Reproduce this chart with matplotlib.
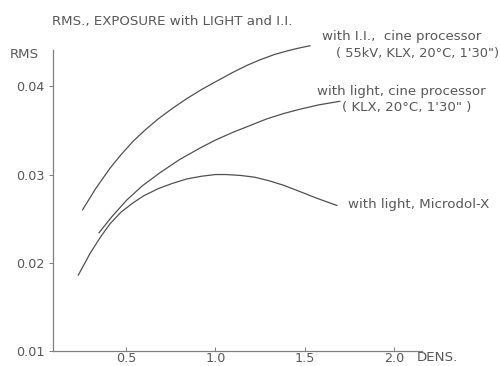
import numpy as np
import matplotlib
matplotlib.use("Agg")
import matplotlib.pyplot as plt

# values
ii_dens = [0.257, 0.33, 0.41, 0.47, 0.541, 0.61, 0.68, 0.76, 0.84, 0.92, 1.00, 1.10,
           1.18, 1.25, 1.33, 1.40, 1.46, 1.53]
ii_rms = [0.0260, 0.0284, 0.0307, 0.0322, 0.0338, 0.0351, 0.0363, 0.0375, 0.0386, 0.0396,
          0.0405, 0.0416, 0.0424, 0.0430, 0.0436, 0.0440, 0.0443, 0.0446]

light_dens = [0.349, 0.42, 0.504, 0.59, 0.69, 0.80, 0.914, 1.00, 1.10, 1.20, 1.287, 1.38,
              1.473, 1.58, 1.697]
light_rms = [0.0234, 0.0252, 0.0271, 0.0287, 0.0302, 0.0317, 0.0330, 0.0339, 0.0348, 0.0356,
             0.0363, 0.0369, 0.0374, 0.0379, 0.0383]

micro_dens = [0.233, 0.30, 0.36, 0.41, 0.47, 0.54, 0.60, 0.68, 0.76, 0.84, 0.92, 1.00, 1.06,
              1.14, 1.22, 1.30, 1.38, 1.47, 1.57, 1.68]
micro_rms = [0.0186, 0.0211, 0.0230, 0.0244, 0.0257, 0.0268, 0.0276, 0.0284, 0.0290, 0.0295,
             0.0298, 0.0300, 0.0300, 0.0299, 0.0297, 0.0293, 0.0288, 0.0281, 0.0273, 0.0265]

x_ticks = [0.5, 1.0, 1.5, 2.0]
x_labels = ["0.5", "1.0", "1.5", "2.0"]
y_ticks = [0.01, 0.02, 0.03, 0.04]
y_labels = ["0.01", "0.02", "0.03", "0.04"]

ink = "#585858"
fs = 9.6

fig = plt.figure(figsize=(5.0, 3.66), dpi=100)
ax = fig.add_axes([0.106, 0.041, 0.738, 0.822])

for xs, ys in [(ii_dens, ii_rms), (light_dens, light_rms), (micro_dens, micro_rms)]:
    ax.plot(xs, ys, color="#505050", lw=0.9, clip_on=False)

ax.set_xlim(0.0914, 2.157)
ax.set_ylim(0.01, 0.0441)

for s in ["top", "right"]:
    ax.spines[s].set_visible(False)
for s in ["left", "bottom"]:
    ax.spines[s].set_color("#808080")
    ax.spines[s].set_linewidth(0.9)

ax.set_xticks(x_ticks)
ax.set_xticklabels(x_labels)
ax.set_yticks(y_ticks)
ax.set_yticklabels(y_labels)
ax.tick_params(axis="x", direction="in", length=3, width=0.7, pad=1, colors="#808080",
               labelcolor=ink, labelsize=9.2)
ax.tick_params(axis="y", direction="out", length=3, width=0.7, pad=3, colors="#808080",
               labelcolor=ink, labelsize=9.2)

fig.text(0.104, 0.94, "RMS., EXPOSURE with LIGHT and I.I.", fontsize=fs, color=ink,
         va="center", ha="left")
fig.text(0.02, 0.85, "RMS", fontsize=fs, color=ink, va="center", ha="left")
fig.text(0.834, 0.022, "DENS.", fontsize=fs, color=ink, va="center", ha="left")

notes = [
    ("with I.I.,  cine processor", 0.644, 0.899, fs),
    ("( 55kV, KLX, 20°C, 1'30\")", 0.672, 0.855, 9.4),
    ("with light, cine processor", 0.634, 0.749, fs),
    ("( KLX, 20°C, 1'30\" )", 0.684, 0.705, fs),
    ("with light, Microdol-X", 0.696, 0.440, fs),
]
for txt, fx, fy, size in notes:
    fig.text(fx, fy, txt, fontsize=size, color=ink, va="center", ha="left")

fig.savefig("out.png", dpi=100, facecolor="white")
